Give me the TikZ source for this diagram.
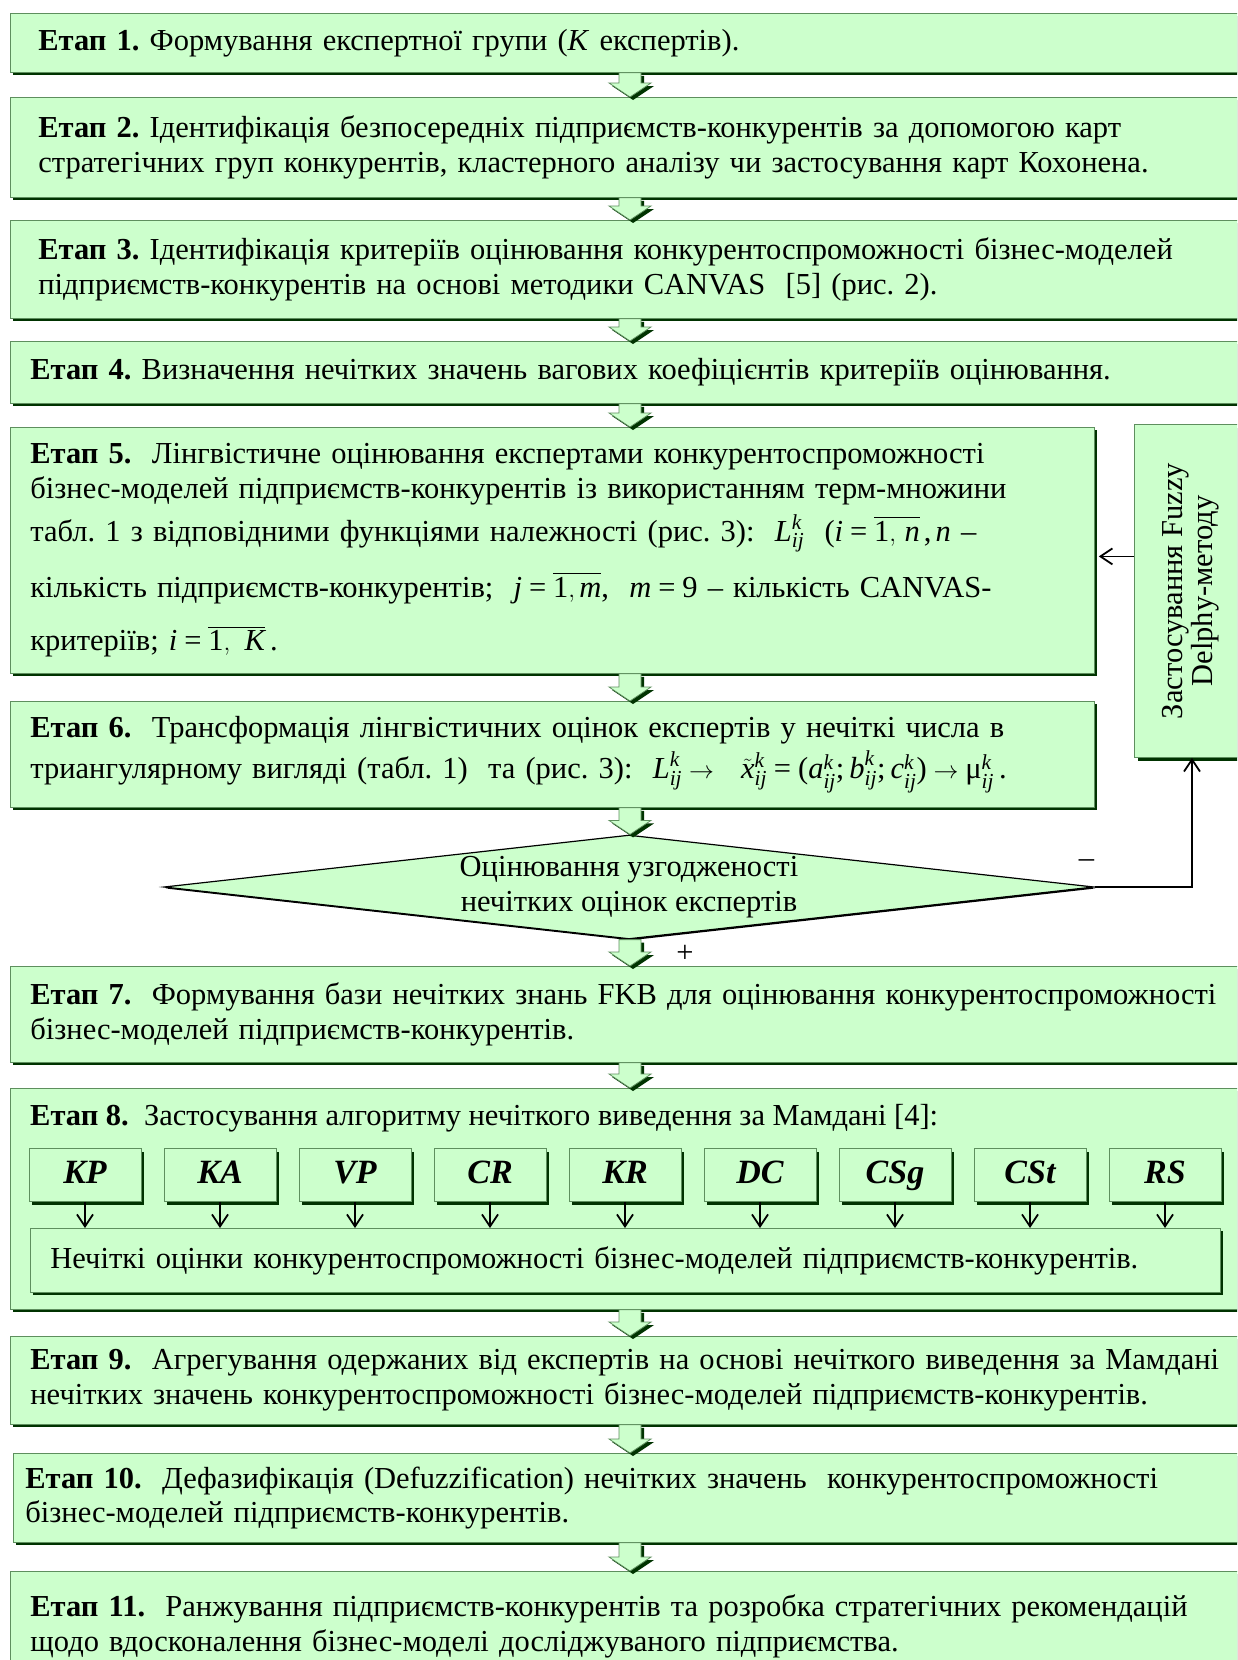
\documentclass[tikz,border=0pt]{standalone}
\usepackage{amsmath}
\usepackage{fontspec}
\setmainfont{Liberation Serif}
\usetikzlibrary{arrows.meta,calc,positioning,shapes.geometric,shadows}

\definecolor{stagefill}{HTML}{CCFFCC}
\definecolor{stageedge}{HTML}{5E8F5E}
\definecolor{stageshade}{HTML}{003300}

\newcommand{\etap}[1]{\textbf{Етап #1.}}
\newcommand{\mi}[1]{\textit{#1}}
\newcommand{\meq}{\mathrel{\text{=}}}
\frenchspacing

\begin{document}
\begin{tikzpicture}[x=1pt,y=-1pt,
  font=\fontsize{30.5}{34.5}\selectfont,
  shaded/.style={drop shadow={shadow xshift=3pt,shadow yshift=-3pt,fill=stageshade,opacity=1}},
  stagebox/.style={shaded,draw=stageedge,fill=stagefill,line width=0.8pt,anchor=north west,
    align=left,inner xsep=20pt,inner ysep=0pt,text width=1250pt,minimum width=1290pt},
  narrowbox/.style={stagebox,text width=1044pt,minimum width=1084pt},
  critbox/.style={shaded,draw=stageedge,fill=stagefill,line width=0.8pt,minimum width=112pt,
    minimum height=53pt,inner sep=0pt,text height=24pt,text depth=7pt,
    font=\fontsize{34}{36}\selectfont\bfseries\itshape},
  decision/.style={diamond,aspect=9,draw=black,line width=1.2pt,fill=stagefill,
    drop shadow={shadow xshift=1.5pt,shadow yshift=-1.5pt,fill=black,opacity=1},
    inner sep=0pt,align=center,minimum width=930pt,minimum height=104pt},
  fatarrow/.style={shaded,draw=stageedge,fill=stagefill,line width=0.8pt,
    to path={($(\tikztostart)+(-11,0)$) -- ($(\tikztostart)+(11,0)$) -- ($(\tikztotarget)+(11,-14)$)
      -- ($(\tikztotarget)+(21,-14)$) -- (\tikztotarget) -- ($(\tikztotarget)+(-21,-14)$)
      -- ($(\tikztotarget)+(-11,-14)$) -- cycle}},
  thinarrow/.style={-{Straight Barb[length=12pt,width=16pt]},line width=1.8pt}]
  \useasboundingbox (0,0) rectangle (1237,1660);
  \clip (0,0) rectangle (1237,1660);
  \coordinate (ax) at (630,0);

  % stages 1-4
  \node[stagebox,inner xsep=28pt,minimum height=59pt] (b1) at (10,13)
    {\etap{1} Формування експертної групи (\textit{K} експертів).};
  \node[stagebox,inner xsep=28pt,minimum height=100pt] (b2) at (10,97)
    {\etap{2} Ідентифікація безпосередніх підприємств-конкурентів за допомогою карт\\
     стратегічних груп конкурентів, кластерного аналізу чи застосування карт Кохонена.};
  \node[stagebox,inner xsep=28pt,minimum height=98pt] (b3) at (10,220)
    {\etap{3} Ідентифікація критеріїв оцінювання конкурентоспроможності бізнес-моделей\\
     підприємств-конкурентів на основі методики CANVAS\ \ [5] (рис. 2).};
  \node[stagebox,minimum height=62pt] (b4) at (10,341)
    {\etap{4} Визначення нечітких значень вагових коефіцієнтів критеріїв оцінювання.};

  % stages 5-6 and the Delphy loop
  \node[narrowbox,minimum height=246pt] (b5) at (10,427)
    {\etap{5}\ \ Лінгвістичне оцінювання експертами конкурентоспроможності\\
     бізнес-моделей підприємств-конкурентів із використанням терм-множини\\[9pt]
     табл. 1 з відповідними функціями належності (рис. 3):\ \ $\mi{L}^{\mi{k}}_{\mi{ij}}$\ \ ($\mi{i}\meq\overline{\text{1},\,\mi{n}}\,$,$\,\mi{n}$\ –\\[19pt]
     кількість підприємств-конкурентів;\ \ $\mi{j}\meq\overline{\text{1},\mi{m}}$,\ \ $\mi{m}\meq\text{9}$\ – кількість CANVAS-\\[19pt]
     критеріїв;\ $\mi{i}\meq\overline{\text{1},\ \mi{K}}$\,.};
  \node[narrowbox,minimum height=106pt] (b6) at (10,701)
    {\etap{6}\ \ Трансформація лінгвістичних оцінок експертів у нечіткі числа в\\[6pt]
     триангулярному вигляді (табл. 1)\ \ та (рис. 3):\ \ $\mi{L}^{\mi{k}}_{\mi{ij}}\rightarrow\ \ \tilde{\mi{x}}^{\mi{k}}_{\mi{ij}}\meq\text{(}\mi{a}^{\mi{k}}_{\mi{ij}}\text{;\,}\mi{b}^{\mi{k}}_{\mi{ij}}\text{;\,}\mi{c}^{\mi{k}}_{\mi{ij}}\text{)}\rightarrow\text{μ}^{\mi{k}}_{\mi{ij}}$\,.};
  \node[stagebox,anchor=center,text width=,minimum width=115pt,minimum height=333pt,align=center,inner sep=0pt] (fd) at (1192,591)
    {\rotatebox{90}{\renewcommand{\arraystretch}{0.85}\begin{tabular}{@{}c@{}}Застосування Fuzzy\\Delphy-методу\end{tabular}}};
  \node[decision] (dia) at (629,887) {Оцінювання узгодженості\\нечітких оцінок експертів};

  % stages 7-8
  \node[stagebox,minimum height=96pt] (b7) at (10,966)
    {\etap{7}\ \ Формування бази нечітких знань FKB для оцінювання конкурентоспроможності\\
     бізнес-моделей підприємств-конкурентів.};
  \node[stagebox,minimum height=221pt] (b8) at (10,1088) {};
  \node[anchor=base west,inner sep=0pt] (t8) at (30,1125)
    {\etap{8}\ \ Застосування алгоритму нечіткого виведення за Мамдані [4]:};
  \foreach \lab [count=\i from 0] in {KP,KA,VP,CR,KR,DC,CSg,CSt,RS}
    \node[critbox] (c\i) at (85+135*\i,1175) {\lab};
  \node[stagebox,text width=1150pt,minimum width=1190pt,minimum height=64pt] (fz) at (30,1228)
    {Нечіткі оцінки конкурентоспроможності бізнес-моделей підприємств-конкурентів.};
  \foreach \i in {0,...,8}
    \draw[thinarrow] (c\i.south) -- (c\i.south |- fz.north);

  % stages 9-11
  \node[stagebox,minimum height=88pt] (b9) at (10,1336)
    {\etap{9}\ \ Агрегування одержаних від експертів на основі нечіткого виведення за Мамдані\\
     нечітких значень конкурентоспроможності бізнес-моделей підприємств-конкурентів.};
  \node[stagebox,inner xsep=12pt,text width=1266pt,minimum height=89pt] (b10) at (13,1453)
    {\etap{10}\ \ Дефазифікація (Defuzzification) нечітких значень\ \ конкурентоспроможності\\
     бізнес-моделей підприємств-конкурентів.};
  \node[stagebox,minimum height=110pt] (b11) at (10,1571)
    {\etap{11}\ \ Ранжування підприємств-конкурентів та розробка стратегічних рекомендацій\\
     щодо вдосконалення бізнес-моделі досліджуваного підприємства.};

  % block arrows
  \draw[fatarrow] (ax |- b1.south) to (ax |- b2.north);
  \draw[fatarrow] (ax |- b2.south) to (ax |- b3.north);
  \draw[fatarrow] (ax |- b3.south) to (ax |- b4.north);
  \draw[fatarrow] (ax |- b4.south) to (ax |- b5.north);
  \draw[fatarrow] (ax |- b5.south) to (ax |- b6.north);
  \draw[fatarrow] (ax |- b6.south) to (ax |- dia.north);
  \draw[fatarrow] (ax |- dia.south) to (ax |- b7.north);
  \draw[fatarrow] (ax |- b7.south) to (ax |- b8.north);
  \draw[fatarrow] (ax |- b8.south) to (ax |- b9.north);
  \draw[fatarrow] (ax |- b9.south) to (ax |- b10.north);
  \draw[fatarrow] (ax |- b10.south) to (ax |- b11.north);

  % feedback loop
  \draw[thinarrow,shorten >=4pt] ([yshift=-6pt]b5.east -| fd.west) -- ([yshift=-6pt]b5.east);
  \draw[thinarrow] (dia.east) -| (fd.south);
  \node (minus) at ($(dia.east)+(-8,-23)$) {–};
  \node (plus) at ($(dia.south)+(56,14)$) {+};
\end{tikzpicture}
\end{document}
